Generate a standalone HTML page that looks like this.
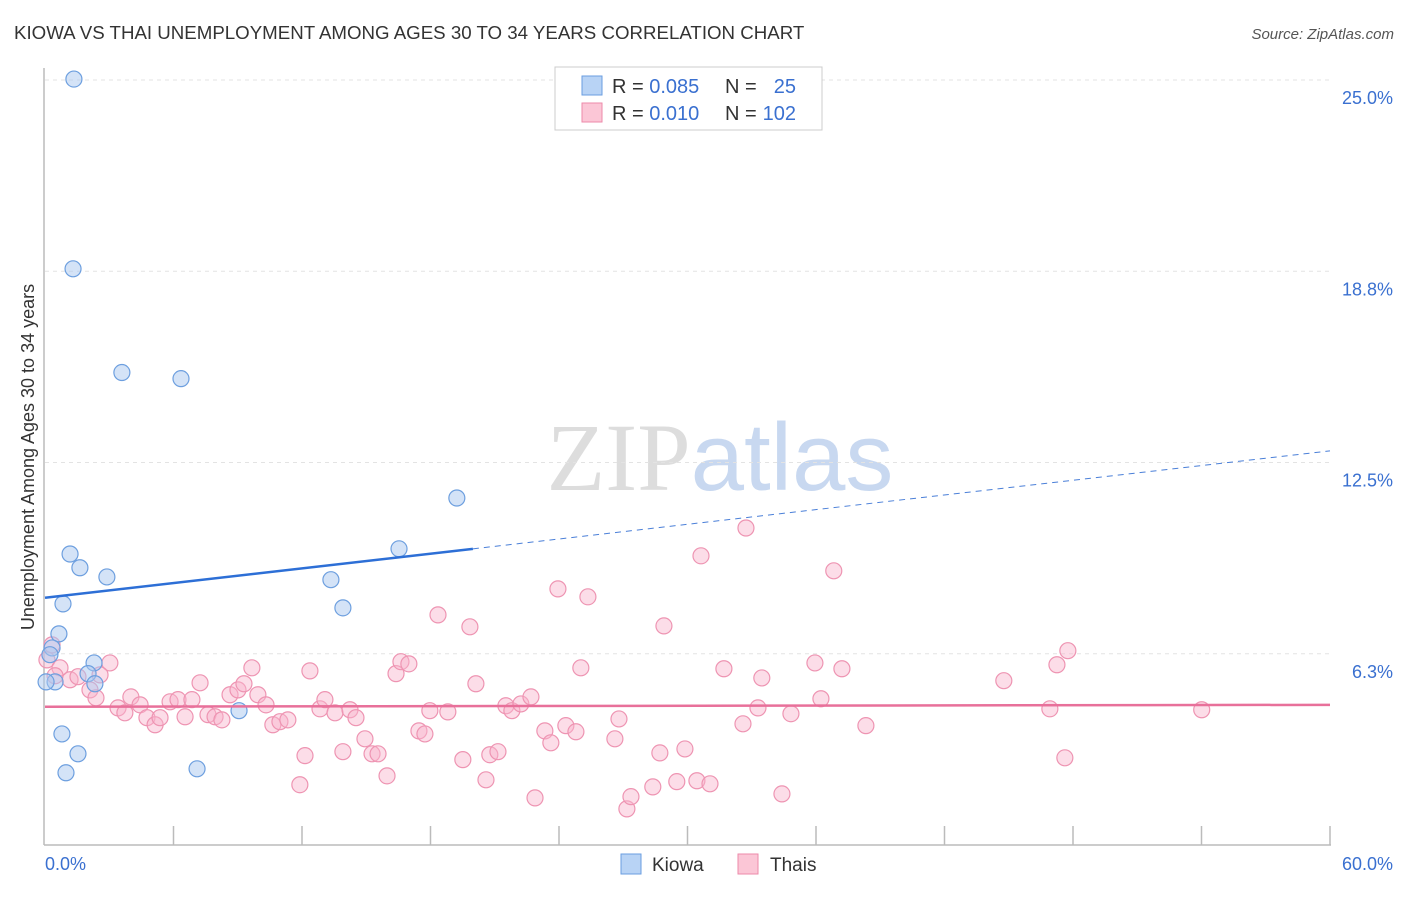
<!DOCTYPE html>
<html><head><meta charset="utf-8"><style>
body{margin:0;background:#fff;font-family:"Liberation Sans",sans-serif;}
svg text{font-family:"Liberation Sans",sans-serif;}
</style></head><body>
<svg id="chart" width="1406" height="892" xmlns="http://www.w3.org/2000/svg">
<text x="14" y="39" font-size="18.7" fill="#333">KIOWA VS THAI UNEMPLOYMENT AMONG AGES 30 TO 34 YEARS CORRELATION CHART</text>
<text x="1394" y="39" font-size="15" fill="#555" text-anchor="end" font-style="italic">Source: ZipAtlas.com</text>
<text x="720" y="490" font-size="96" text-anchor="middle"><tspan fill="#ddd" font-family="Liberation Serif">ZIP</tspan><tspan fill="#c8d8f0">atlas</tspan></text>
<g id="grid"></g>
<g id="axes"></g>
<g id="marks"></g>
<text transform="translate(34,457) rotate(-90)" font-size="18" fill="#333" text-anchor="middle">Unemployment Among Ages 30 to 34 years</text>
<g>
<rect x="555" y="67" width="267" height="63" fill="#fff" stroke="#ccc"/>
<rect x="582" y="76" width="20" height="19" fill="#b8d3f5" stroke="#6a9ee0"/>
<rect x="582" y="103" width="20" height="19" fill="#fbc6d6" stroke="#ec8aaa"/>
<text x="612" y="93" font-size="20" fill="#333">R = <tspan fill="#3a70d0">0.085</tspan></text>
<text x="725" y="93" font-size="20" fill="#333">N = </text><text x="796" y="93" font-size="20" fill="#3a70d0" text-anchor="end">25</text>
<text x="612" y="120" font-size="20" fill="#333">R = <tspan fill="#3a70d0"> 0.010</tspan></text>
<text x="725" y="120" font-size="20" fill="#333">N = </text><text x="796" y="120" font-size="20" fill="#3a70d0" text-anchor="end">102</text>
</g>
<g>
<rect x="621" y="854" width="20" height="20" fill="#b8d3f5" stroke="#6a9ee0"/>
<text x="652" y="871" font-size="19" fill="#333">Kiowa</text>
<rect x="738" y="854" width="20" height="20" fill="#fbc6d6" stroke="#ec8aaa"/>
<text x="770" y="871" font-size="19" fill="#333">Thais</text>
</g>
</svg>
<script>
const yTicks=[6.3,12.5,18.8,25.0];
const yTickLabels=["6.3%","12.5%","18.8%","25.0%"];
const kiowaX=[1.35,1.31,3.59,6.35,19.23,16.53,1.17,1.63,2.89,13.35,0.84,13.91,0.65,0.33,0.23,2.29,2.01,2.33,0.47,0.05,9.06,0.79,1.54,0.98,7.1];
const kiowaY=[25.03,18.83,15.44,15.24,11.34,9.68,9.51,9.06,8.76,8.67,7.88,7.75,6.9,6.44,6.22,5.95,5.6,5.27,5.33,5.33,4.39,3.63,2.98,2.36,2.49];
const thaiX=[0.33,0.09,0.7,0.47,1.17,1.54,2.1,2.38,3.03,2.57,3.41,3.73,4.01,4.44,4.76,5.14,5.37,5.84,6.21,6.54,6.86,7.24,7.61,7.94,8.26,8.64,9.01,9.29,9.66,9.94,10.32,10.64,10.97,11.34,11.9,12.14,12.37,12.84,13.07,13.54,13.91,14.24,14.52,14.94,15.27,15.55,15.97,16.39,16.62,16.99,17.46,17.74,17.97,18.35,18.81,19.51,19.84,20.12,20.59,20.77,21.15,21.52,21.8,22.22,22.69,22.88,23.34,23.62,23.95,24.32,24.79,25.02,25.35,26.61,26.8,27.17,27.36,28.38,28.71,28.9,29.5,29.88,30.44,30.63,31.05,31.7,32.59,32.73,33.29,33.47,34.41,34.83,35.95,36.23,36.83,37.21,38.33,44.77,46.92,47.25,47.62,47.76,54.01];
const thaiY=[6.54,6.05,5.79,5.53,5.4,5.5,5.07,4.81,5.95,5.56,4.48,4.32,4.84,4.58,4.16,3.93,4.16,4.68,4.75,4.19,4.75,5.3,4.26,4.19,4.09,4.91,5.07,5.27,5.79,4.91,4.58,3.93,4.03,4.09,1.97,2.92,5.69,4.45,4.75,4.32,3.05,4.42,4.16,3.47,2.98,2.98,2.26,5.6,5.99,5.92,3.73,3.63,4.39,7.52,4.35,2.79,7.13,5.27,2.13,2.95,3.05,4.55,4.39,4.61,4.84,1.54,3.73,3.34,8.37,3.9,3.7,5.79,8.11,3.47,4.12,1.18,1.58,1.9,3.01,7.16,2.07,3.14,2.1,9.45,2.0,5.76,3.96,10.36,4.48,5.46,1.67,4.29,5.95,4.78,8.96,5.76,3.9,5.37,4.45,5.89,2.85,6.35,4.42];
const kiowaTrend=[8.08,12.88];
const thaiTrend=[4.52,4.58];
const kiowaSolidEnd=19.98;

const NS="http://www.w3.org/2000/svg";
const X0=45,X1=1330,Y0=845,YT=80;
const xs=v=>X0+v/60*(X1-X0);
const ys=v=>Y0-v/25*(Y0-YT);
function mk(tag,attrs,parent){const e=document.createElementNS(NS,tag);for(const k in attrs)e.setAttribute(k,attrs[k]);parent.appendChild(e);return e;}
const grid=document.getElementById('grid'),axes=document.getElementById('axes'),marks=document.getElementById('marks');
yTicks.forEach((t,i)=>{
  const yy=ys(t===6.3?6.25:t===18.8?18.75:t);
  const l=mk('line',{x1:X0,x2:X1,y1:yy,y2:yy,stroke:'#e3e3e3','stroke-dasharray':'4,4'},grid);
  
  
  const tx=mk('text',{x:1393,y:yy+24,'font-size':18,fill:'#3a70d0','text-anchor':'end'},axes);
  tx.textContent=yTickLabels[i];
  
  
});
mk('line',{x1:44,x2:44,y1:68,y2:845,stroke:'#bbb','stroke-width':1.5},axes);
mk('line',{x1:44,x2:X1+1,y1:845,y2:845,stroke:'#bbb','stroke-width':1.5},axes);
for(let i=1;i<=10;i++){const xx=xs(i*6);mk('line',{x1:xx,x2:xx,y1:826,y2:845,stroke:'#bbb','stroke-width':1.5},axes);}
const l0=mk('text',{x:45,y:870,'font-size':18,fill:'#3a70d0'},axes);l0.textContent='0.0%';


const l1=mk('text',{x:1393,y:870,'font-size':18,fill:'#3a70d0','text-anchor':'end'},axes);l1.textContent='60.0%';


thaiX.forEach((v,i)=>{
  const c=mk('circle',{cx:xs(v),cy:ys(thaiY[i]),r:8,fill:'rgba(248,180,204,0.45)',stroke:'#ee94b2','stroke-width':1.2},marks);
  
  
});
kiowaX.forEach((v,i)=>{
  const c=mk('circle',{cx:xs(v),cy:ys(kiowaY[i]),r:8,fill:'rgba(170,200,240,0.5)',stroke:'#6d9fdf','stroke-width':1.2},marks);
  
  
});
const ky=x=>kiowaTrend[0]+(kiowaTrend[1]-kiowaTrend[0])*x/60;
const t1=mk('line',{x1:xs(0),y1:ys(ky(0)),x2:xs(kiowaSolidEnd),y2:ys(ky(kiowaSolidEnd)),stroke:'#2d6fd6','stroke-width':2.5},marks);


const t2=mk('line',{x1:xs(kiowaSolidEnd),y1:ys(ky(kiowaSolidEnd)),x2:xs(60),y2:ys(ky(60)),stroke:'#4a7fd8','stroke-width':1,'stroke-dasharray':'6,5'},marks);


const t3=mk('line',{x1:xs(0),y1:ys(thaiTrend[0]),x2:xs(60),y2:ys(thaiTrend[1]),stroke:'#e8709a','stroke-width':2.5},marks);


</script>
</body></html>
